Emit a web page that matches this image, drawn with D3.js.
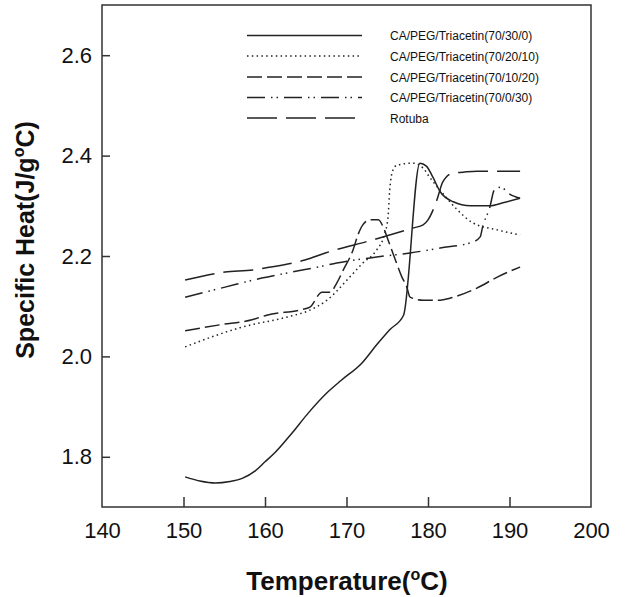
<!DOCTYPE html>
<html>
<head>
<meta charset="utf-8">
<script src="https://cdn.jsdelivr.net/npm/d3@7"></script>
<style>
  body { margin: 0; background: #fff; }
  svg text { font-family: "Liberation Sans", Arial, sans-serif; fill: #111; }
</style>
</head>
<body>
<div class="viz"></div>
<script>
// series (temperature in oC, specific heat in J/goC)
const t1 = [150.2, 152.0, 153.9, 155.7, 157.2, 158.8, 160.0, 161.2, 163.3, 165.3, 167.7, 169.4, 171.9, 173.7, 175.3, 177.0, 179.0, 179.8, 180.6, 181.5, 183.1, 185.2, 187.6, 189.2, 191.3];
const cp1 = [1.760, 1.752, 1.748, 1.751, 1.757, 1.772, 1.790, 1.808, 1.847, 1.887, 1.929, 1.953, 1.987, 2.023, 2.053, 2.082, 2.385, 2.379, 2.357, 2.328, 2.308, 2.300, 2.300, 2.306, 2.315];

const t2 = [150.2, 156.9, 163.1, 165.2, 167.6, 170.4, 172.0, 173.7, 174.6, 175.1, 175.3, 175.7, 176.2, 178.2, 179.4, 180.2, 181.8, 183.6, 185.5, 188.5, 191.3];
const cp2 = [2.019, 2.057, 2.080, 2.090, 2.112, 2.158, 2.186, 2.212, 2.240, 2.278, 2.331, 2.371, 2.381, 2.385, 2.375, 2.357, 2.325, 2.292, 2.266, 2.252, 2.242];

const t3 = [150.2, 154.5, 158.4, 160.2, 164.7, 165.5, 167.0, 168.0, 168.8, 169.6, 170.8, 171.4, 172.0, 172.9, 173.9, 174.5, 175.1, 176.0, 176.8, 177.4, 177.8, 179.4, 181.5, 182.7, 186.0, 188.5, 191.3];
const cp3 = [2.051, 2.063, 2.073, 2.082, 2.094, 2.098, 2.128, 2.128, 2.146, 2.172, 2.212, 2.242, 2.262, 2.272, 2.272, 2.258, 2.232, 2.192, 2.158, 2.138, 2.118, 2.112, 2.112, 2.116, 2.136, 2.158, 2.178];

const t4 = [150.2, 155.1, 159.6, 163.3, 167.1, 168.8, 173.7, 177.8, 181.5, 185.5, 186.4, 186.7, 187.6, 188.1, 188.5, 189.2, 189.7, 191.3];
const cp4 = [2.118, 2.138, 2.156, 2.168, 2.180, 2.186, 2.198, 2.206, 2.216, 2.228, 2.238, 2.258, 2.298, 2.331, 2.337, 2.335, 2.327, 2.315];

const t5 = [150.2, 155.1, 158.5, 160.0, 163.4, 164.9, 167.4, 173.2, 178.2, 179.4, 180.0, 181.1, 181.8, 183.0, 184.3, 186.0, 191.3];
const cp5 = [2.152, 2.168, 2.172, 2.176, 2.186, 2.192, 2.206, 2.232, 2.256, 2.262, 2.272, 2.312, 2.347, 2.365, 2.367, 2.369, 2.369];

const names = ['CA/PEG/Triacetin(70/30/0)', 'CA/PEG/Triacetin(70/20/10)', 'CA/PEG/Triacetin(70/10/20)', 'CA/PEG/Triacetin(70/0/30)', 'Rotuba'];
const xTicks = [140, 150, 160, 170, 180, 190, 200];
const yTicks = [1.8, 2.0, 2.2, 2.4, 2.6];

const series = [[t1, cp1], [t2, cp2], [t3, cp3], [t4, cp4], [t5, cp5]];
const dashes = ['none', '1.5,3.3', '15,5', '18,6,1.5,4,1.5,6', '30,9'];

const W = 637, H = 597;
const plot = { left: 102, right: 591, top: 5, bottom: 507 };

const svg = d3.select('.viz')
  .append('svg')
  .attr('width', W)
  .attr('height', H);

const x = d3.scaleLinear().domain([140, 200]).range([plot.left, plot.right]);
const y = d3.scaleLinear().domain([1.7, 2.7]).range([plot.bottom, plot.top]);

// frame
svg.append('rect')
  .attr('x', plot.left).attr('y', plot.top)
  .attr('width', plot.right - plot.left).attr('height', plot.bottom - plot.top)
  .attr('fill', 'none').attr('stroke', '#333').attr('stroke-width', 1.5);

// axes, ticks pointing inward
const xAxis = svg.append('g')
  .attr('transform', 'translate(0,' + plot.bottom + ')')
  .call(d3.axisBottom(x).tickValues(xTicks).tickSize(-10).tickPadding(15).tickFormat(d3.format('d')));
const yAxis = svg.append('g')
  .attr('transform', 'translate(' + plot.left + ',0)')
  .call(d3.axisLeft(y).tickValues(yTicks).tickSize(-8).tickPadding(10).tickFormat(d3.format('.1f')));

[xAxis, yAxis].forEach(g => {
  g.select('.domain').remove();
  g.selectAll('.tick line').attr('stroke', '#333').attr('stroke-width', 1.5);
  g.selectAll('.tick text').attr('font-size', 22).attr('fill', '#111')
    .style('font-family', '"Liberation Sans", Arial, sans-serif');
});
// hide the ticks that sit on the frame
xAxis.selectAll('.tick').filter(d => d === 140 || d === 200).select('line').remove();

// curves
const line = d3.line()
  .x(d => x(d[0]))
  .y(d => y(d[1]))
  .curve(d3.curveMonotoneX);

series.forEach((s, i) => {
  const pts = s[0].map((t, j) => [t, s[1][j]]);
  svg.append('path')
    .datum(pts)
    .attr('fill', 'none')
    .attr('stroke', '#222')
    .attr('stroke-width', 1.5)
    .attr('stroke-dasharray', dashes[i])
    .attr('d', line);
});

// legend
const legY = [35.5, 56, 77, 97.5, 118];
names.forEach((n, i) => {
  svg.append('line')
    .attr('x1', 247).attr('x2', 362)
    .attr('y1', legY[i]).attr('y2', legY[i])
    .attr('stroke', '#222').attr('stroke-width', 1.5)
    .attr('stroke-dasharray', dashes[i]);
  svg.append('text')
    .attr('x', 390).attr('y', legY[i] + 4.5)
    .attr('font-size', 12)
    .text(n);
});

// axis titles
const xt = svg.append('text')
  .attr('x', 347).attr('y', 590)
  .attr('text-anchor', 'middle')
  .attr('font-size', 26).attr('font-weight', 'bold');
xt.append('tspan').text('Temperature(');
xt.append('tspan').attr('font-size', 16).attr('dy', -10).text('o');
xt.append('tspan').attr('dy', 10).text('C)');

const yt = svg.append('text')
  .attr('transform', 'translate(34,240) rotate(-90)')
  .attr('text-anchor', 'middle')
  .attr('font-size', 25).attr('font-weight', 'bold');
yt.append('tspan').text('Specific Heat(J/g');
yt.append('tspan').attr('font-size', 16).attr('dy', -10).text('o');
yt.append('tspan').attr('dy', 10).text('C)');
</script>
</body>
</html>
